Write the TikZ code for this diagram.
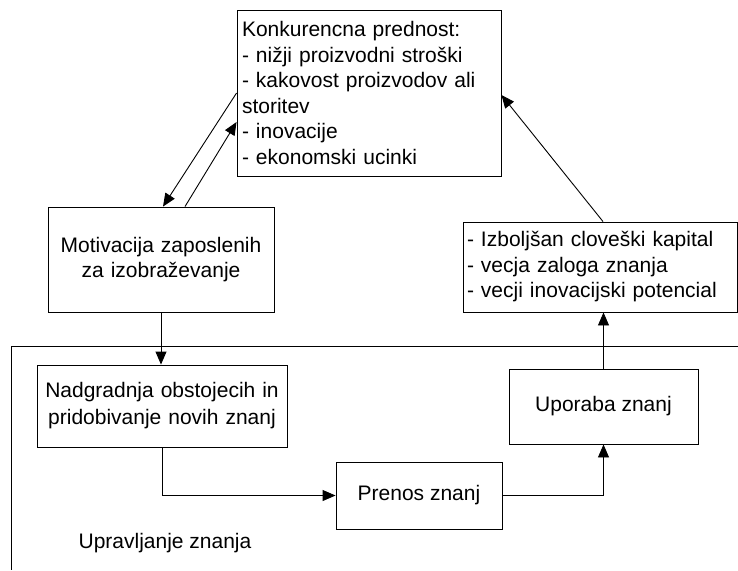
\documentclass[tikz,border=0pt]{standalone}
\usepackage{fontspec}
\setmainfont{Liberation Sans}
\usetikzlibrary{arrows.meta}
\begin{document}
\begin{tikzpicture}[x=1pt,y=-1pt,
  box/.style={draw=black,line width=0.9pt,inner sep=0pt,font=\fontsize{21}{25.5}\selectfont},
  lbl/.style={inner sep=0pt,font=\fontsize{21}{25.5}\selectfont},
  conn/.style={draw=black,line width=0.9pt},
  arr/.style={conn,-{Triangle[length=13pt,width=11pt]}}]
\useasboundingbox (0,0) rectangle (738,570);
% frame of knowledge management
\draw[conn] (738,346) -- (11,346) -- (11,570);
\node[box,minimum width=264pt,minimum height=166pt,text width=254pt,align=left] (kon) at (369,93)
  {Konkurencna prednost:\\- nižji proizvodni stroški\\- kakovost proizvodov ali\\storitev\\- inovacije\\- ekonomski ucinki};
\node[box,minimum width=226pt,minimum height=105pt,text width=220pt,align=center] (mot) at (161,259.5)
  {Motivacija zaposlenih\\za izobraževanje};
\node[box,minimum width=274pt,minimum height=90pt,text width=266pt,align=left] (izb) at (600,267)
  {- Izboljšan cloveški kapital\\- vecja zaloga znanja\\- vecji inovacijski potencial};
\node[box,minimum width=250pt,minimum height=82pt,text width=244pt,align=center,font=\fontsize{21}{27}\selectfont] (nad) at (162,406)
  {Nadgradnja obstojecih in\\pridobivanje novih znanj};
\node[box,minimum width=166pt,minimum height=67pt] (pre) at (419,495.5) {Prenos znanj};
\node[box,minimum width=189pt,minimum height=75pt] (upo) at (603.5,406.5) {Uporaba znanj};
\node[lbl] (upr) at (165,543) {Upravljanje znanja};
% connectors
\draw[arr] (kon.west) -- ([xshift=2pt]mot.north);
\draw[arr] ([xshift=24pt]mot.north) -- ([yshift=-29pt]kon.west);
\draw[arr] ([xshift=3pt]izb.north) -- ([yshift=-2pt]kon.east);
\draw[arr] (mot.south) -- (mot.south |- nad.north);
\draw[arr] (nad.south) |- (pre.west);
\draw[arr] (pre.east) -| (upo.south);
\draw[arr] (upo.north) -- (upo.north |- izb.south);
\end{tikzpicture}
\end{document}
